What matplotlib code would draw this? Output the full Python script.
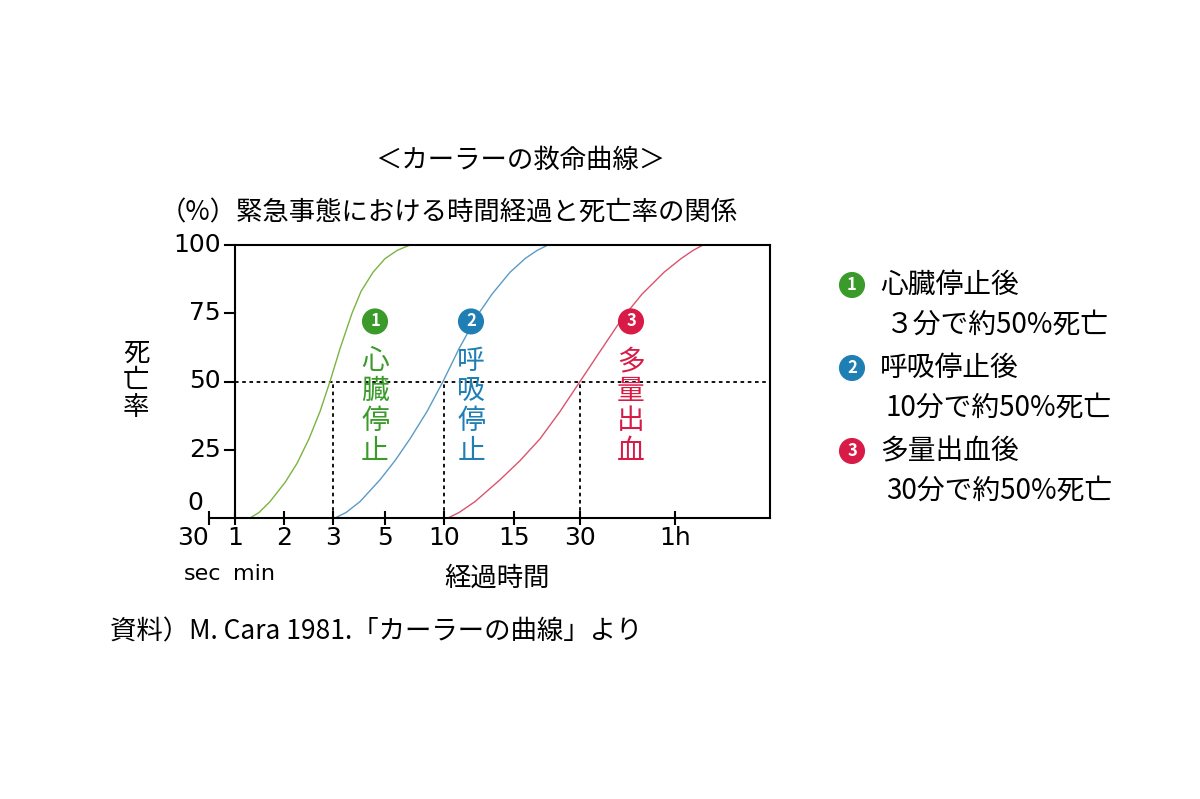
import matplotlib.pyplot as plt

plt.rcParams['font.family'] = 'Noto Sans CJK JP'

# x axis is a hand-drawn, non-uniform time scale: positions in axis units
tick_labels = ['30', '1', '2', '3', '5', '10', '15', '30', '1h']
tick_pos = [0, 26, 75, 124, 176, 235, 305, 371, 466]
x_end = 561

y_ticks = [0, 25, 50, 75, 100]

# curves (position units, % dead)
heart_x = [41, 50, 61, 76, 88, 100, 111, 121, 131, 143, 152, 164, 176, 188, 201]
heart_y = [0, 2, 6, 13, 20, 29, 39, 50, 62, 75, 83, 90, 95, 98, 100]
breath_x = [126, 137, 151, 171, 186, 201, 218, 234, 250, 268, 283, 301, 316, 328, 339]
breath_y = [0, 2, 6, 14, 21, 29, 39, 50, 62, 74, 82, 90, 95, 98, 100]
blood_x = [239, 250, 266, 291, 311, 331, 351, 371, 391, 413, 433, 455, 472, 484, 494]
blood_y = [0, 2, 6, 14, 21, 29, 39, 50, 61, 73, 82, 90, 95, 98, 100]

names = ['心臓停止', '呼吸停止', '多量出血']
nums = ['1', '2', '3']
colors = ['#7cb342', '#5b9bc4', '#d9546e']
text_colors = ['#3a9a2a', '#1f7fb5', '#d81b46']
label_x = [166, 262, 422]
legend_lines = [('心臓停止後', '３分で約50%死亡'),
                ('呼吸停止後', '10分で約50%死亡'),
                ('多量出血後', '30分で約50%死亡')]

fig = plt.figure(figsize=(12, 7.99), dpi=100)
ax = fig.add_axes([209 / 1200, 1 - 518 / 799, 561 / 1200, 273 / 799])
ax.set_xlim(0, x_end)
ax.set_ylim(0, 100)
ax.spines['left'].set_visible(False)
for s in ['top', 'right', 'bottom']:
    ax.spines[s].set_linewidth(1.5)
ax.spines['top'].set_bounds(26, x_end)
ax.axvline(26, color='black', lw=1.5)

ax.set_xticks(tick_pos)
ax.set_xticklabels(tick_labels, fontsize=18, fontfamily='DejaVu Sans')
ax.get_xticklabels()[0].set_horizontalalignment('right')
ax.get_xticklabels()[0].set_x(-0.5)
ax.tick_params(axis='x', direction='inout', length=10, width=1.5, pad=1)
ax.set_yticks([])
for v in y_ticks:
    if v > 0:
        ax.plot([16, 26], [v, v], color='black', lw=1.5, clip_on=False)
        ax.text(12, v, str(v), ha='right', va='center', fontsize=18,
                fontfamily='DejaVu Sans')
    else:
        ax.text(-6, v + 1, str(v), ha='right', va='bottom', fontsize=18,
                fontfamily='DejaVu Sans')

ax.text(-6, -17, 'sec', ha='center', va='top', fontsize=16,
        fontfamily='DejaVu Sans')
ax.text(24, -17, 'min', ha='left', va='top', fontsize=16,
        fontfamily='DejaVu Sans')

# reference lines
ax.plot([26, x_end], [50, 50], color='black', ls=(0, (2, 2)), lw=1.3)
for p in [tick_pos[3], tick_pos[5], tick_pos[7]]:
    ax.plot([p, p], [0, 50], color='black', ls=(0, (2, 2)), lw=1.3)

for xs, ys, c in zip([heart_x, breath_x, blood_x],
                     [heart_y, breath_y, blood_y], colors):
    ax.plot(xs, ys, color=c, lw=1)

for lx, n, name, tc in zip(label_x, nums, names, text_colors):
    ax.text(lx, 72, n, ha='center', va='center', fontsize=12, color='white',
            fontweight='bold',
            bbox=dict(boxstyle='circle,pad=0.2', fc=tc, ec=tc))
    ax.text(lx, 63, '\n'.join(name), ha='center', va='top', fontsize=20,
            color=tc, linespacing=1.0)

fig.text(520 / 1200, 1 - 160 / 799, '＜カーラーの救命曲線＞', ha='center',
         va='center', fontsize=19)
fig.text(160 / 1200, 1 - 213 / 799, '（%）緊急事態における時間経過と死亡率の関係',
         ha='left', va='center', fontsize=19)
fig.text(136 / 1200, 1 - 380 / 799, '死\n亡\n率', ha='center', va='center',
         fontsize=19, linespacing=1.0)
fig.text(497 / 1200, 1 - 578 / 799, '経過時間', ha='center', va='center',
         fontsize=19)
fig.text(110 / 1200, 1 - 632 / 799, '資料）M. Cara 1981.「カーラーの曲線」より',
         ha='left', va='center', fontsize=19)

for i, ((l1, l2), tc) in enumerate(zip(legend_lines, text_colors)):
    y0 = 1 - (285 + i * 83) / 799
    fig.text(852 / 1200, y0, nums[i], ha='center', va='center', fontsize=12,
             color='white', fontweight='bold',
             bbox=dict(boxstyle='circle,pad=0.2', fc=tc, ec=tc))
    fig.text(880 / 1200, y0, l1, ha='left', va='center', fontsize=20)
    fig.text(886 / 1200, y0 - 40 / 799, l2, ha='left', va='center',
             fontsize=20)

fig.savefig('out.png', dpi=100)
